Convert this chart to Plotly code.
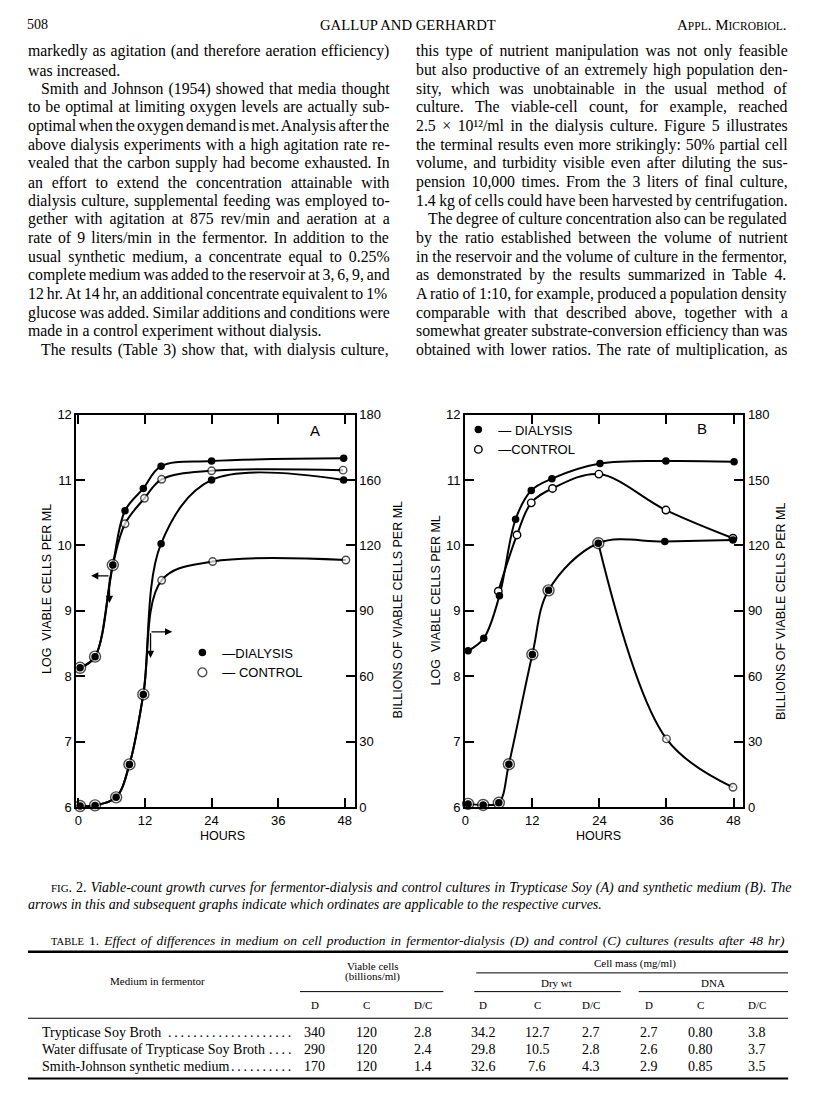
import plotly.graph_objects as go

# ---------------- DATA ----------------
# Panel A: Trypticase Soy.  Left axis = log viable cells/ml, right axis = billions/ml
hours_A_log_dialysis = [0.3, 3.0, 6.2, 8.4, 11.7, 14.9, 24.0, 47.8]
log_A_dialysis = [8.13, 8.30, 9.70, 10.53, 10.87, 11.21, 11.29, 11.33]
hours_A_log_control = [0.3, 3.0, 6.2, 8.4, 11.9, 15.0, 24.0, 47.7]
log_A_control = [8.13, 8.30, 9.70, 10.33, 10.72, 11.01, 11.14, 11.15]
hours_A_bil_dialysis = [0.3, 3.0, 6.8, 9.2, 11.7, 14.9, 24.0, 47.8]
bil_A_dialysis = [0.5, 0.8, 4.5, 19.6, 51.7, 120.8, 150.0, 150.0]
hours_A_bil_control = [0.3, 3.0, 6.8, 9.2, 11.7, 15.0, 24.2, 48.2]
bil_A_control = [0.5, 0.8, 4.5, 19.6, 51.7, 104.0, 112.6, 113.3]

# Panel B: synthetic medium
hours_B_log_dialysis = [0.5, 3.3, 6.1, 9.0, 11.8, 15.5, 24.1, 35.9, 48.1]
log_B_dialysis = [8.39, 8.58, 9.23, 10.40, 10.84, 11.02, 11.25, 11.29, 11.28]
hours_B_log_control = [5.9, 9.25, 11.8, 15.6, 23.9, 35.9, 47.9]
log_B_control = [9.30, 10.16, 10.65, 10.87, 11.09, 10.54, 10.11]
hours_B_bil_dialysis = [0.5, 3.2, 6.0, 7.8, 12.0, 14.9, 23.8, 35.7, 47.9]
bil_B_dialysis = [1.5, 1.0, 2.0, 19.7, 70.0, 99.4, 121.0, 121.8, 122.5]
hours_B_bil_control = [0.5, 3.2, 6.0, 7.8, 12.0, 14.9, 23.8, 36.0, 47.9]
bil_B_control = [1.5, 1.0, 2.0, 19.7, 70.0, 99.4, 121.0, 31.3, 9.1]

hour_ticks = [0, 12, 24, 36, 48]
log_ticks = [6, 7, 8, 9, 10, 11, 12]
bil_ticks = [0, 30, 60, 90, 120, 150, 180]
bil_ticktext_A = ["0", "30", "60", "90", "120", "160", "180"]   # as printed
bil_ticktext_B = ["0", "30", "60", "90", "120", "150", "180"]

# Table 1
table_media = ["Trypticase Soy Broth",
               "Water diffusate of Trypticase Soy Broth",
               "Smith-Johnson synthetic medium"]
viable_D = ["340", "290", "170"]
viable_C = ["120", "120", "120"]
viable_DC = ["2.8", "2.4", "1.4"]
dry_D = ["34.2", "29.8", "32.6"]
dry_C = ["12.7", "10.5", "7.6"]
dry_DC = ["2.7", "2.8", "4.3"]
dna_D = ["2.7", "2.6", "2.9"]
dna_C = ["0.80", "0.80", "0.85"]
dna_DC = ["3.8", "3.7", "3.5"]

left_lines = [
    ("markedly as agitation (and therefore aeration efficiency)", 0, True),
    ("was increased.", 0, False),
    ("Smith and Johnson (1954) showed that media thought", 1, True),
    ("to be optimal at limiting oxygen levels are actually sub-", 0, True),
    ("optimal when the oxygen demand is met. Analysis after the", 0, True),
    ("above dialysis experiments with a high agitation rate re-", 0, True),
    ("vealed that the carbon supply had become exhausted. In", 0, True),
    ("an effort to extend the concentration attainable with", 0, True),
    ("dialysis culture, supplemental feeding was employed to-", 0, True),
    ("gether with agitation at 875 rev/min and aeration at a", 0, True),
    ("rate of 9 liters/min in the fermentor. In addition to the", 0, True),
    ("usual synthetic medium, a concentrate equal to 0.25%", 0, True),
    ("complete medium was added to the reservoir at 3, 6, 9, and", 0, True),
    ("12 hr. At 14 hr, an additional concentrate equivalent to 1%", 0, True),
    ("glucose was added. Similar additions and conditions were", 0, True),
    ("made in a control experiment without dialysis.", 0, False),
    ("The results (Table 3) show that, with dialysis culture,", 1, True),
]
right_lines = [
    ("this type of nutrient manipulation was not only feasible", 0, True),
    ("but also productive of an extremely high population den-", 0, True),
    ("sity, which was unobtainable in the usual method of", 0, True),
    ("culture. The viable-cell count, for example, reached", 0, True),
    ("2.5 × 10¹²/ml in the dialysis culture. Figure 5 illustrates", 0, True),
    ("the terminal results even more strikingly: 50% partial cell", 0, True),
    ("volume, and turbidity visible even after diluting the sus-", 0, True),
    ("pension 10,000 times. From the 3 liters of final culture,", 0, True),
    ("1.4 kg of cells could have been harvested by centrifugation.", 0, True),
    ("The degree of culture concentration also can be regulated", 1, True),
    ("by the ratio established between the volume of nutrient", 0, True),
    ("in the reservoir and the volume of culture in the fermentor,", 0, True),
    ("as demonstrated by the results summarized in Table 4.", 0, True),
    ("A ratio of 1:10, for example, produced a population density", 0, True),
    ("comparable with that described above, together with a", 0, True),
    ("somewhat greater substrate-conversion efficiency than was", 0, True),
    ("obtained with lower ratios. The rate of multiplication, as", 0, True),
]

caption_1 = ("Viable-count growth curves for fermentor-dialysis and control cultures "
             "in Trypticase Soy (A) and synthetic medium (B). The")
caption_2 = ("arrows in this and subsequent graphs indicate which ordinates are "
             "applicable to the respective curves.")
table_title = ("Effect of differences in medium on cell production in fermentor-dialysis "
               "(D) and control (C) cultures (results after 48 hr)")

# ---------------- layout helpers ----------------
W, H = 816, 1110
SERIF = "Liberation Serif"
SANS = "Liberation Sans"


def px(x):
    return x / W


def py(y):
    return 1 - y / H


# Times metrics (Liberation Serif is metric compatible) for justification
ROMAN = {' ': 250, '%': 833, '(': 333, ')': 333, ',': 250, '-': 333, '.': 250, '/': 278,
         ':': 278, ';': 278, '×': 564, '¹': 300, '²': 300, "'": 333,
         'A': 722, 'B': 667, 'C': 667, 'D': 722, 'E': 611, 'F': 556, 'G': 722, 'H': 722,
         'I': 333, 'J': 389, 'K': 722, 'L': 611, 'M': 889, 'N': 722, 'O': 722, 'P': 556,
         'Q': 722, 'R': 667, 'S': 556, 'T': 611, 'U': 722, 'V': 722, 'W': 944, 'X': 722,
         'Y': 722, 'Z': 611,
         'a': 444, 'b': 500, 'c': 444, 'd': 500, 'e': 444, 'f': 333, 'g': 500, 'h': 500,
         'i': 278, 'j': 278, 'k': 500, 'l': 278, 'm': 778, 'n': 500, 'o': 500, 'p': 500,
         'q': 500, 'r': 333, 's': 389, 't': 278, 'u': 500, 'v': 500, 'w': 722, 'x': 500,
         'y': 500, 'z': 444}
ITALIC = dict(ROMAN)
ITALIC.update({'a': 500, 'f': 278, 'k': 444, 'm': 722, 'r': 389, 'v': 444, 'w': 667,
               'x': 444, 'y': 444, 'z': 389, 'A': 611, 'B': 611, 'E': 611, 'F': 611,
               'K': 667, 'L': 556, 'M': 833, 'N': 667, 'P': 611, 'R': 611, 'S': 500,
               'T': 556, 'V': 611, 'W': 833, 'X': 611, 'Y': 556, 'Z': 556, ':': 333})


def units(s, table=ROMAN):
    return sum(table.get(c, 500) for c in s)


annotations = []
shapes = []


def ann(text, x, y, size, family=SERIF, xanchor="left", yanchor="middle", **kw):
    annotations.append(dict(text=text, x=px(x), y=py(y), xref="paper", yref="paper",
                            xanchor=xanchor, yanchor=yanchor, showarrow=False,
                            font=dict(family=family, size=size, color="black"), **kw))


def hline(x0, x1, y, w=1.0):
    shapes.append(dict(type="line", xref="paper", yref="paper", x0=px(x0), x1=px(x1),
                       y0=py(y), y1=py(y), line=dict(color="black", width=w)))


fig = go.Figure()


def line_trace(x, y, xa, ya):
    fig.add_trace(go.Scatter(x=x, y=y, xaxis=xa, yaxis=ya, mode="lines",
                             line=dict(color="black", width=2, shape="spline", smoothing=1.0),
                             showlegend=False, hoverinfo="skip", cliponaxis=False))


def marker_trace(x, y, xa, ya, filled, size, legend="legend", name=None, show=False):
    fig.add_trace(go.Scatter(
        x=x, y=y, xaxis=xa, yaxis=ya, mode="markers", name=name, showlegend=show,
        legend=legend, legendrank=1 if filled else 2, cliponaxis=False, hoverinfo="skip",
        marker=dict(symbol="circle", size=size, color="black" if filled else "white",
                    line=dict(color="black", width=0 if filled else 1.4))))


def shared_sizes(ch, cv, dh, dv, big=11, small=7.5):
    pts = set(zip(dh, dv))
    return [big if (h, v) in pts else small for h, v in zip(ch, cv)]


# ---------------- panel A ----------------
line_trace(hours_A_log_dialysis, log_A_dialysis, "x", "y")
line_trace(hours_A_log_control, log_A_control, "x", "y")
line_trace(hours_A_bil_dialysis, bil_A_dialysis, "x", "y2")
line_trace(hours_A_bil_control, bil_A_control, "x", "y2")
marker_trace(hours_A_log_control, log_A_control, "x", "y", False,
             shared_sizes(hours_A_log_control, log_A_control, hours_A_log_dialysis, log_A_dialysis),
             legend="legend", name="— CONTROL", show=True)
marker_trace(hours_A_bil_control, bil_A_control, "x", "y2", False,
             shared_sizes(hours_A_bil_control, bil_A_control, hours_A_bil_dialysis, bil_A_dialysis))
marker_trace(hours_A_log_dialysis, log_A_dialysis, "x", "y", True, 7.5,
             legend="legend", name="—DIALYSIS", show=True)
marker_trace(hours_A_bil_dialysis, bil_A_dialysis, "x", "y2", True, 7.5)

# ---------------- panel B ----------------
peak = bil_B_control.index(max(bil_B_control))
line_trace(hours_B_log_dialysis, log_B_dialysis, "x2", "y3")
line_trace(hours_B_log_control, log_B_control, "x2", "y3")
line_trace(hours_B_bil_dialysis, bil_B_dialysis, "x2", "y4")
line_trace(hours_B_bil_control[peak:], bil_B_control[peak:], "x2", "y4")
marker_trace(hours_B_log_control, log_B_control, "x2", "y3", False, 7.5,
             legend="legend2", name="—CONTROL", show=True)
marker_trace(hours_B_bil_control, bil_B_control, "x2", "y4", False,
             shared_sizes(hours_B_bil_control, bil_B_control, hours_B_bil_dialysis, bil_B_dialysis))
marker_trace(hours_B_log_dialysis, log_B_dialysis, "x2", "y3", True, 7.5,
             legend="legend2", name="— DIALYSIS", show=True)
marker_trace(hours_B_bil_dialysis, bil_B_dialysis, "x2", "y4", True, 7.5)

# ---------------- axes ----------------
ax = dict(showline=True, linewidth=2, linecolor="black", ticks="inside", ticklen=9,
          tickwidth=1.5, tickcolor="black", showgrid=False, zeroline=False,
          tickfont=dict(family=SANS, size=13, color="black"))
A_X0, A_X1 = 65.7, 345.0
B_X0, B_X1 = 455.7, 735.0
Y_TOP, Y_BOT = 405.0, 803.0
yd = [py(Y_BOT), py(Y_TOP)]
fig.update_layout(
    xaxis=dict(ax, domain=[px(A_X0), px(A_X1)], range=[-0.35, 49.8], tickvals=hour_ticks,
               mirror="ticks", anchor="y"),
    yaxis=dict(ax, domain=yd, range=[6, 12], tickvals=log_ticks, anchor="x"),
    yaxis2=dict(ax, range=[0, 180], tickvals=bil_ticks, ticktext=bil_ticktext_A,
                overlaying="y", side="right", anchor="x"),
    xaxis2=dict(ax, domain=[px(B_X0), px(B_X1)], range=[-0.05, 49.75], tickvals=hour_ticks,
                mirror="ticks", anchor="y3"),
    yaxis3=dict(ax, domain=yd, range=[6, 12], tickvals=log_ticks, anchor="x2"),
    yaxis4=dict(ax, range=[0, 180], tickvals=bil_ticks, ticktext=bil_ticktext_B,
                overlaying="y3", side="right", anchor="x2"),
)

# arrows of panel A (which ordinate applies)
for (tx, ty, hx, hy) in [(5.7, 9.535, 2.3, 9.535), (5.6, 9.53, 5.6, 9.12),
                         (12.9, 8.68, 16.9, 8.68), (13.0, 8.68, 13.0, 8.28)]:
    annotations.append(dict(x=hx, y=hy, ax=tx, ay=ty, xref="x", yref="y", axref="x",
                            ayref="y", text="", showarrow=True, arrowhead=2, arrowsize=1.1,
                            arrowwidth=1.3, arrowcolor="black", standoff=0, startstandoff=0))

# panel letters, axis titles
ann("A", 305, 421, 15, SANS, "center")
ann("B", 694, 419, 15, SANS, "center")
ann("LOG  VIABLE CELLS PER ML", 36, 582, 12.5, SANS, "center", textangle=-90)
ann("LOG  VIABLE CELLS PER ML", 427, 593, 12.5, SANS, "center", textangle=-90)
ann("BILLIONS OF VIABLE CELLS PER ML", 388, 603, 12.5, SANS, "center", textangle=-90)
ann("BILLIONS OF VIABLE CELLS PER ML", 773, 605, 12.5, SANS, "center", textangle=-90)
ann("HOURS", 212, 832, 12.5, SANS, "center")
ann("HOURS", 590, 832, 12.5, SANS, "center")

# ---------------- page header ----------------
ann("508", 14, 10, 14)
ann("GALLUP AND GERHARDT", 398, 10, 14.7, SERIF, "center")
ann("A<span style='font-size:11.5px'>PPL</span>. M<span style='font-size:11.5px'>ICROBIOL</span>.",
    781, 10, 15, SERIF, "right")

# ---------------- body text (justified columns) ----------------
COLS = [(15, 377, left_lines), (404, 776, right_lines)]
INDENT = 13
ratios = []
for x0, x1, lines in COLS:
    for t, ind, just in lines:
        if just:
            ratios.append((x1 - x0 - ind * INDENT) * 1000 / units(t))
ratios.sort()
body_size = round(ratios[len(ratios) // 4], 2)
LINE0, LEAD = 37.0, 18.9
for x0, x1, lines in COLS:
    for i, (t, ind, just) in enumerate(lines):
        target = x1 - x0 - ind * INDENT
        nat = units(t) * body_size / 1000
        ns = t.count(" ")
        ws = (target - nat) / ns if (just and ns) else 0.0
        ws = max(ws, -1.5)
        txt = f"<span style='word-spacing:{ws:.2f}px'>{t}</span>"
        ann(txt, x0 + ind * INDENT, LINE0 + i * LEAD, body_size)

# ---------------- caption ----------------
cap_x0, cap_x1 = 38, 781
cap_units = units("FIG") * 0.78 + units(". 2. ") + units(caption_1, ITALIC)
cap_size = min(max((cap_x1 - cap_x0) * 1000 / cap_units, 11.0), 14.0)
cap_ws = ((cap_x1 - cap_x0) - cap_units * cap_size / 1000) / caption_1.count(" ")
ann(f"<span style='word-spacing:{cap_ws:.2f}px'><span style='font-size:{cap_size*0.78:.1f}px'>FIG</span>. 2. "
    f"<i>{caption_1}</i></span>", cap_x0, 885, cap_size)
ann(f"<i>{caption_2}</i>", 15, 902, cap_size)

# ---------------- table ----------------
TL, TR = 17, 780
tt_size = 13.5
tt_ws = 1.7
ann(f"<span style='word-spacing:{tt_ws:.2f}px'><span style='font-size:{tt_size*0.78:.1f}px'>TABLE</span> 1. "
    f"<i>{table_title}</i></span>", 408, 938, tt_size, SERIF, "center")
hline(TL, TR, 949.5, 2.5)
HS = 11
ann("Medium in fermentor", 147, 979, HS, SERIF, "center")
ann("Viable cells", 363, 964, HS, SERIF, "center")
ann("(billions/ml)", 363, 975, HS, SERIF, "center")
ann("Cell mass (mg/ml)", 626, 961, HS, SERIF, "center")
hline(467, TR, 971, 1.0)
ann("Dry wt", 548, 981, HS, SERIF, "center")
ann("DNA", 705, 981, HS, SERIF, "center")
hline(290, 434, 990, 1.0)
hline(465, 612, 990, 1.0)
hline(630, TR, 990, 1.0)
col_x = [305, 357, 414, 474, 528, 582, 640, 692, 749]
for x, h in zip(col_x, ["D", "C", "D/C"] * 3):
    ann(h, x, 1004, HS, SERIF, "center")
hline(TL, TR, 1017, 1.0)
ROW_SIZE = 14
row_y = [1031, 1048.5, 1065.5]
columns = [viable_D, viable_C, viable_DC, dry_D, dry_C, dry_DC, dna_D, dna_C, dna_DC]
DOTS_END = 286
for r, (label, y) in enumerate(zip(table_media, row_y)):
    ann(label, 29, y, ROW_SIZE)
    lab_w = units(label) * ROW_SIZE / 1000
    avail = DOTS_END - (29 + lab_w + 5)
    ndots = max(int(avail / (ROW_SIZE * 0.45)), 1)
    ann(".\u2009" * ndots, DOTS_END, y, ROW_SIZE, SERIF, "right")
    for x, col in zip(col_x, columns):
        ann(col[r], x, y, ROW_SIZE, SERIF, "center")
hline(TL, TR, 1078, 2.0)

fig.update_layout(
    width=W, height=H, margin=dict(l=0, r=0, t=0, b=0),
    paper_bgcolor="white", plot_bgcolor="white", hovermode=False,
    annotations=annotations, shapes=shapes,
    legend=dict(x=px(172), y=py(631), xanchor="left", yanchor="top",
                bgcolor="rgba(0,0,0,0)", font=dict(family=SANS, size=13, color="black"),
                itemclick=False, itemdoubleclick=False),
    legend2=dict(x=px(449), y=py(405), xanchor="left", yanchor="top",
                 bgcolor="rgba(0,0,0,0)", font=dict(family=SANS, size=13, color="black"),
                 itemclick=False, itemdoubleclick=False),
)

fig.write_html("out.html")
